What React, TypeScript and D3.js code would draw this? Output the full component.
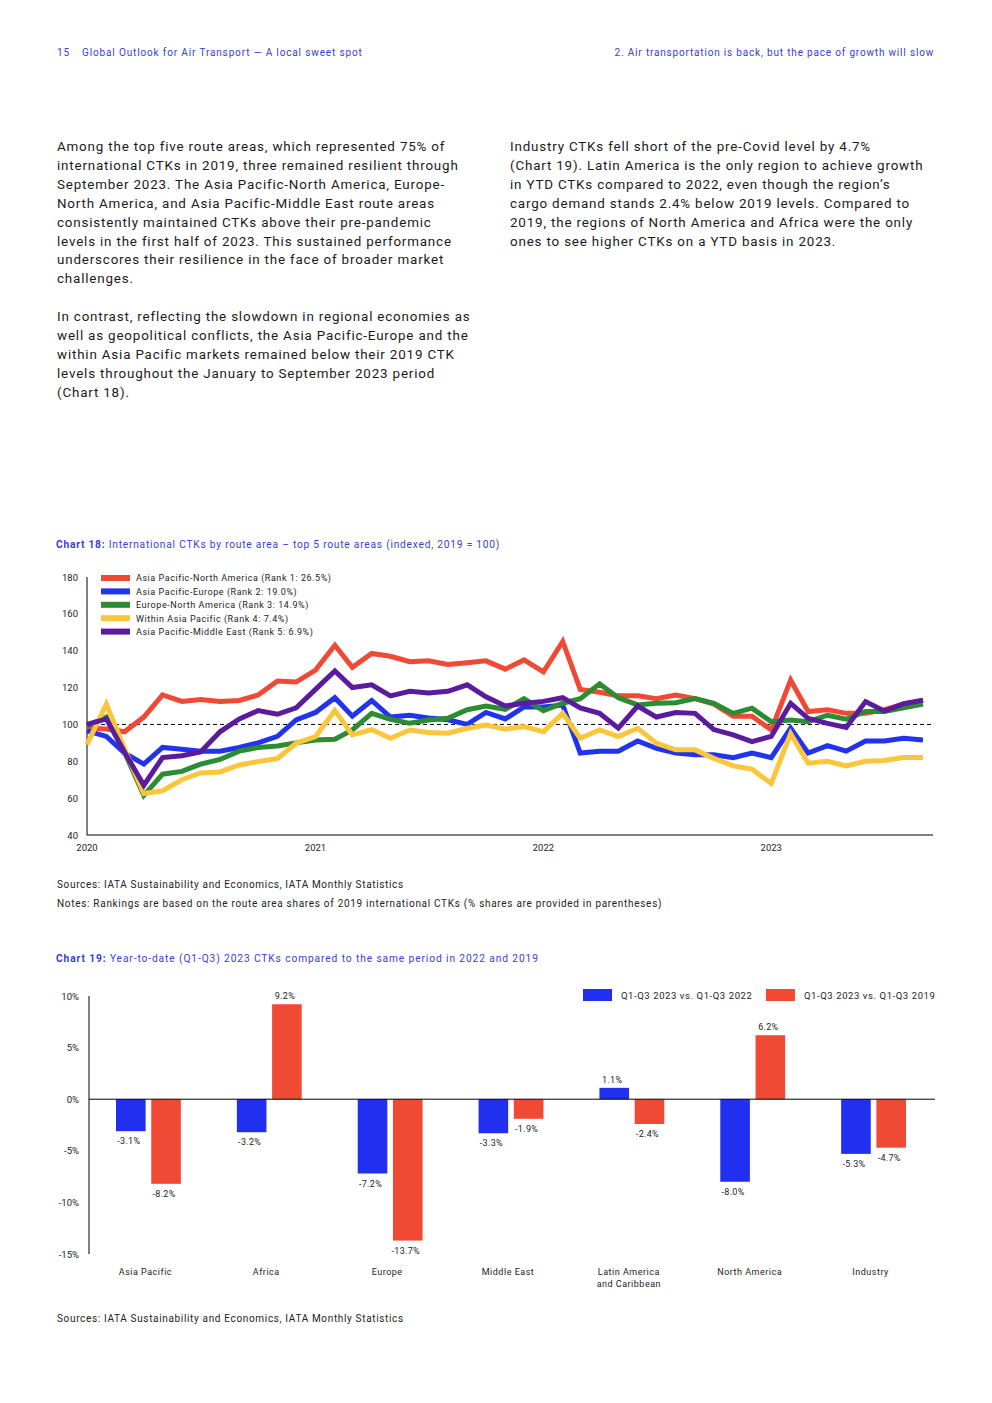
import React from 'react';
import * as d3 from 'd3';

// ---- Chart 18 data (indexed, 2019 = 100), monthly Jan 2020 - Sep 2023
const months = d3.timeMonth.range(new Date(2020, 0, 1), new Date(2023, 9, 1));
const yearTicks = [2020, 2021, 2022, 2023];
const ctkTicks = [40, 60, 80, 100, 120, 140, 160, 180];

const apNorthAmerica = [
  98, 97.5, 96, 104, 116, 112.5, 113.5, 112.5, 113, 116, 123.5, 123,
  129.5, 143, 131, 138.5, 137, 134, 134.5, 132.5, 133.5, 134.5, 130, 135,
  128.5, 145, 119, 117.5, 115.5, 115.5, 114, 116, 114, 111, 104.5, 104.5,
  97, 124, 107, 108, 106, 106, 108, 111, 113,
];
const apEurope = [
  96.5, 93.5, 84.5, 78.5, 87.5, 86.5, 85.5, 85.5, 87.5, 90, 93.5, 102.5,
  106.5, 114.5, 104.5, 113, 104, 105, 103.5, 102.5, 100, 106.5, 103, 109.5,
  109.5, 110.5, 84.5, 85.5, 85.5, 91, 87, 84.5, 83.5, 83.5, 82, 84.5,
  82, 98, 84.5, 88.5, 85.5, 91, 91, 92.5, 91.5,
];
const europeNorthAmerica = [
  99, 104, 85, 61.5, 73, 74.5, 78.5, 81, 85.5, 87.5, 88.3, 90,
  91.6, 92, 97, 106, 102.8, 100.6, 102.4, 103.3, 108, 110, 108.2, 114,
  107.5, 111.5, 114, 122, 114.5, 110.6, 111.5, 111.8, 114, 111.5, 106, 108.8,
  101.5, 102.4, 101.5, 105, 102.8, 107, 107, 109, 111,
];
const withinAsiaPacific = [
  89, 111, 87, 62.5, 64, 70, 73.7, 74.2, 78, 79.8, 81.5, 89.8,
  93.4, 107.6, 94.3, 97.2, 92.5, 97, 95.6, 95.2, 97.9, 99.7, 97.4, 98.8,
  96.1, 106, 92.5, 97, 93.4, 97.9, 89.8, 86.2, 86.2, 81.6, 77.5, 75.7,
  68, 95, 79, 80, 77.5, 80, 80.4, 82, 82,
];
const apMiddleEast = [
  100, 103, 85, 67, 82, 83, 85, 96, 103, 107.5, 105.5, 109,
  119, 129, 120, 121.5, 115.5, 118, 117, 118, 121.5, 115, 110, 111.5,
  112.5, 114.5, 109, 106, 98, 110, 104, 106.5, 106, 97.2, 94.3, 90.7,
  93.5, 111.5, 103.3, 100.6, 98.3, 112.4, 107.3, 111.2, 113.2,
];
const routeNames = [
  'Asia Pacific-North America (Rank 1: 26.5%)',
  'Asia Pacific-Europe (Rank 2: 19.0%)',
  'Europe-North America (Rank 3: 14.9%)',
  'Within Asia Pacific (Rank 4: 7.4%)',
  'Asia Pacific-Middle East (Rank 5: 6.9%)',
];
const routeColors = ['#f04a36', '#2233ee', '#2b8c33', '#fcc63c', '#5b1b9e'];
const routeValues = [apNorthAmerica, apEurope, europeNorthAmerica, withinAsiaPacific, apMiddleEast];

// ---- Chart 19 data (% change)
const regions = ['Asia Pacific', 'Africa', 'Europe', 'Middle East', 'Latin America\nand Caribbean', 'North America', 'Industry'];
const vs2022 = [-3.1, -3.2, -7.2, -3.3, 1.1, -8.0, -5.3];
const vs2019 = [-8.2, 9.2, -13.7, -1.9, -2.4, 6.2, -4.7];
const barSeriesNames = ['Q1-Q3 2023 vs. Q1-Q3 2022', 'Q1-Q3 2023 vs. Q1-Q3 2019'];
const barColors = ['#2130f0', '#f04a35'];
const pctTicks = [10, 5, 0, -5, -10, -15];

const leftText = [
  'Among the top five route areas, which represented 75% of',
  'international CTKs in 2019, three remained resilient through',
  'September 2023. The Asia Pacific-North America, Europe-',
  'North America, and Asia Pacific-Middle East route areas',
  'consistently maintained CTKs above their pre-pandemic',
  'levels in the first half of 2023. This sustained performance',
  'underscores their resilience in the face of broader market',
  'challenges.',
  '',
  'In contrast, reflecting the slowdown in regional economies as',
  'well as geopolitical conflicts, the Asia Pacific-Europe and the',
  'within Asia Pacific markets remained below their 2019 CTK',
  'levels throughout the January to September 2023 period',
  '(Chart 18).',
];
const rightText = [
  'Industry CTKs fell short of the pre-Covid level by 4.7%',
  '(Chart 19). Latin America is the only region to achieve growth',
  'in YTD CTKs compared to 2022, even though the region\u2019s',
  'cargo demand stands 2.4% below 2019 levels. Compared to',
  '2019, the regions of North America and Africa were the only',
  'ones to see higher CTKs on a YTD basis in 2023.',
];

const FONT = 'Roboto, "Noto Sans", sans-serif';
const BLUE_TEXT = '#3540d6';

const App = () => {
  // chart 18 scales
  const x = d3.scaleTime().domain([months[0], months[months.length - 1]]).range([87, 923]);
  const y = d3.scaleLinear().domain([40, 180]).range([835, 577]);
  const line = d3
    .line<number>()
    .x((_, i) => x(months[i]))
    .y((d) => y(d));

  // chart 19 scales
  const xb = d3.scaleBand<string>().domain(regions).range([89, 935]);
  const xInner = d3
    .scaleBand<number>()
    .domain([0, 1])
    .range([27, xb.bandwidth() - 29])
    .paddingInner(0.16);
  const yb = d3.scaleLinear().domain([-15, 10]).range([1254, 996]);
  const barData = [vs2022, vs2019];

  return (
    <svg
      width={992}
      height={1403}
      style={{ position: 'absolute', left: 0, top: 0, background: '#fff' }}
      fontFamily={FONT}
    >
      {/* running header */}
      <text x={57} y={56} fontSize={10} fill={BLUE_TEXT} letterSpacing={0.9}>
        15
      </text>
      <text x={82} y={56} fontSize={10} fill={BLUE_TEXT} letterSpacing={0.86}>
        Global Outlook for Air Transport — A local sweet spot
      </text>
      <text x={934} y={56} fontSize={10} fill={BLUE_TEXT} letterSpacing={0.82} textAnchor="end">
        2. Air transportation is back, but the pace of growth will slow
      </text>

      {/* body text */}
      {leftText.map((t, i) => (
        <text key={'l' + i} x={57} y={151 + i * 18.9} fontSize={13.4} fill="#1a1a1a" letterSpacing={0.82}>
          {t}
        </text>
      ))}
      {rightText.map((t, i) => (
        <text key={'r' + i} x={510} y={151 + i * 18.9} fontSize={13.4} fill="#1a1a1a" letterSpacing={0.82}>
          {t}
        </text>
      ))}

      {/* chart 18 */}
      <text x={56} y={548} fontSize={10.2} fill={BLUE_TEXT} letterSpacing={0.78}>
        <tspan fontWeight="bold">Chart 18:</tspan> International CTKs by route area – top 5 route areas (indexed, 2019 = 100)
      </text>
      {ctkTicks.map((t) => (
        <text key={t} x={78} y={y(t) + 3.5} fontSize={9.5} textAnchor="end" fill="#222">
          {t}
        </text>
      ))}
      {yearTicks.map((yr) => (
        <text key={yr} x={x(new Date(yr, 0, 1))} y={851} fontSize={9.5} textAnchor="middle" fill="#222">
          {yr}
        </text>
      ))}
      <line x1={87} x2={87} y1={577} y2={835} stroke="#000" strokeWidth={1} />
      <line x1={87} x2={933} y1={835} y2={835} stroke="#000" strokeWidth={1} />
      <line x1={87} x2={933} y1={y(100)} y2={y(100)} stroke="#000" strokeWidth={1} strokeDasharray="4,3" />
      {routeValues.map((vals, k) => (
        <path key={k} d={line(vals) || ''} fill="none" stroke={routeColors[k]} strokeWidth={5} strokeLinejoin="miter" />
      ))}
      {routeNames.map((n, k) => (
        <g key={n} transform={`translate(101, ${578 + k * 13.4})`}>
          <rect x={0} y={-3} width={29} height={6} fill={routeColors[k]} />
          <text x={35} y={3.3} fontSize={9} fill="#222" letterSpacing={0.55}>
            {n}
          </text>
        </g>
      ))}
      <text x={57} y={888} fontSize={10} fill="#222" letterSpacing={0.66}>
        Sources: IATA Sustainability and Economics, IATA Monthly Statistics
      </text>
      <text x={57} y={907} fontSize={10} fill="#222" letterSpacing={0.7}>
        Notes: Rankings are based on the route area shares of 2019 international CTKs (% shares are provided in parentheses)
      </text>

      {/* chart 19 */}
      <text x={56} y={962} fontSize={10.2} fill={BLUE_TEXT} letterSpacing={0.9}>
        <tspan fontWeight="bold">Chart 19:</tspan> Year-to-date (Q1-Q3) 2023 CTKs compared to the same period in 2022 and 2019
      </text>
      {pctTicks.map((t) => (
        <text key={t} x={79} y={yb(t) + 3.5} fontSize={9.5} textAnchor="end" fill="#222">
          {t}%
        </text>
      ))}
      {regions.map((r, i) => (
        <g key={r} transform={`translate(${xb(r)}, 0)`}>
          {barData.map((vals, k) => {
            const v = vals[i];
            const bx = xInner(k) as number;
            const top = yb(Math.max(0, v));
            const h = Math.abs(yb(v) - yb(0));
            return (
              <g key={k}>
                <rect x={bx} y={top} width={xInner.bandwidth()} height={h} fill={barColors[k]} />
                <text
                  x={bx + xInner.bandwidth() / 2 - 2}
                  y={v >= 0 ? yb(v) - 5 : yb(v) + 13}
                  fontSize={9}
                  textAnchor="middle"
                  fill="#222"
                  letterSpacing={0.3}
                >
                  {v.toFixed(1)}%
                </text>
              </g>
            );
          })}
          {r.split('\n').map((ln, j) => (
            <text
              key={j}
              x={xb.bandwidth() / 2 - 4}
              y={1275 + j * 12}
              fontSize={9}
              textAnchor="middle"
              fill="#222"
              letterSpacing={0.5}
            >
              {ln}
            </text>
          ))}
        </g>
      ))}
      <line x1={89} x2={89} y1={996} y2={1254} stroke="#000" strokeWidth={1} />
      <line x1={89} x2={935} y1={yb(0)} y2={yb(0)} stroke="#000" strokeWidth={1} />
      {barSeriesNames.map((n, k) => (
        <g key={n} transform={`translate(${k === 0 ? 583 : 766}, 989)`}>
          <rect x={0} y={0} width={29} height={12} fill={barColors[k]} />
          <text x={38} y={9.5} fontSize={9.5} fill="#222" letterSpacing={0.58}>
            {n}
          </text>
        </g>
      ))}
      <text x={57} y={1322} fontSize={10} fill="#222" letterSpacing={0.66}>
        Sources: IATA Sustainability and Economics, IATA Monthly Statistics
      </text>
    </svg>
  );
};

export default App;
